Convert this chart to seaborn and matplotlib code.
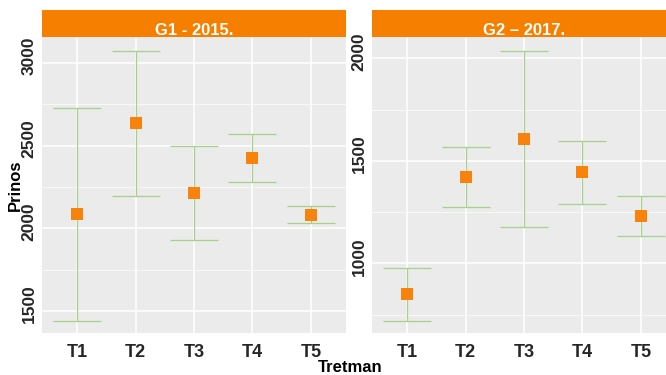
import numpy as np
import pandas as pd
import matplotlib
matplotlib.use("Agg")
import matplotlib.pyplot as plt
import matplotlib.transforms as mtransforms
import seaborn as sns
from matplotlib.ticker import MultipleLocator

# ---- data ----
treatments = ["T1", "T2", "T3", "T4", "T5"]
panels = ["G1 - 2015.", "G2 \u2013 2017."]
g1_mean = [2085, 2635, 2214, 2424, 2082]
g1_low = [1442, 2196, 1928, 2279, 2033]
g1_high = [2730, 3073, 2498, 2569, 2134]
g2_mean = [850, 1420, 1608, 1444, 1231]
g2_low = [719, 1273, 1179, 1289, 1135]
g2_high = [979, 1567, 2036, 1595, 1328]

df = pd.concat([
    pd.DataFrame({"Grupa": panels[0], "Tretman": treatments,
                  "Prinos": g1_mean, "low": g1_low, "high": g1_high}),
    pd.DataFrame({"Grupa": panels[1], "Tretman": treatments,
                  "Prinos": g2_mean, "low": g2_low, "high": g2_high}),
], ignore_index=True)

sns.set_theme(style="darkgrid", rc={
    "axes.facecolor": "#EBEBEB",
    "grid.color": "white",
    "axes.edgecolor": "#EBEBEB",
})
plt.rcParams["font.family"] = ["Liberation Sans", "DejaVu Sans"]

W, H = 666, 375
fig = plt.figure(figsize=(W / 100, H / 100), dpi=100)

POINT = "#F7820C"
BAR = "#A8D08A"
STRIP = "#F77F00"
TXT = "#262626"

layout = {
    panels[0]: dict(x0=42, ylim=(1367, 3157), major=500),
    panels[1]: dict(x0=372, ylim=(660, 2104), major=500),
}
top, bottom, strip_top = 37, 333, 9.5
pw = 304
up = mtransforms.ScaledTranslation(0, 7 / 100, fig.dpi_scale_trans)

for name in panels:
    L = layout[name]
    sub = df[df["Grupa"] == name]
    ax = fig.add_axes([L["x0"] / W, 1 - bottom / H, pw / W, (bottom - top) / H])
    ax.errorbar(sub["Tretman"], sub["Prinos"],
                yerr=[sub["Prinos"] - sub["low"], sub["high"] - sub["Prinos"]],
                fmt="none", ecolor=BAR, elinewidth=0.9, capsize=17,
                capthick=0.9, zorder=2)
    sns.scatterplot(data=sub, x="Tretman", y="Prinos", marker="s", s=78,
                    color=POINT, linewidth=0, ax=ax, zorder=3)
    ax.set_xlim(-0.6, 4.6)
    ax.set_ylim(*L["ylim"])
    ax.yaxis.set_major_locator(MultipleLocator(L["major"]))
    ax.yaxis.set_minor_locator(MultipleLocator(L["major"] / 2))
    ax.grid(True, which="major", color="white", linewidth=1.1)
    ax.grid(True, which="minor", axis="y", color="white", linewidth=0.5)
    ax.set_xlabel("")
    ax.set_ylabel("")
    ax.tick_params(axis="both", which="major", length=3, width=0.8,
                   color="#333333", labelcolor=TXT)
    ax.tick_params(axis="x", labelsize=13, pad=5)
    ax.tick_params(axis="y", labelsize=12.5, pad=1)
    ax.tick_params(axis="y", which="minor", length=0)
    for lab in ax.get_xticklabels():
        lab.set_fontweight("bold")
    for lab in ax.get_yticklabels():
        lab.set_fontweight("bold")
        lab.set_rotation(90)
        lab.set_va("center")
        lab.set_transform(lab.get_transform() + up)
    for s in ax.spines.values():
        s.set_visible(False)

    sax = fig.add_axes([L["x0"] / W, 1 - top / H, pw / W, (top - strip_top) / H])
    sax.set_facecolor(STRIP)
    sax.set_xticks([])
    sax.set_yticks([])
    sax.grid(False)
    for s in sax.spines.values():
        s.set_visible(False)
    sax.text(0.5, 0.08, name, transform=sax.transAxes, ha="center", va="baseline",
             color="white", fontsize=12, fontweight="bold")

fig.text(15 / W, 1 - 185 / H, "Prinos", rotation=90, ha="center", va="center",
         fontsize=12, fontweight="bold", color="black")
fig.text(350 / W, 1 - 367 / H, "Tretman", ha="center", va="center",
         fontsize=12, fontweight="bold", color="black")

fig.savefig("out.png", dpi=100)
